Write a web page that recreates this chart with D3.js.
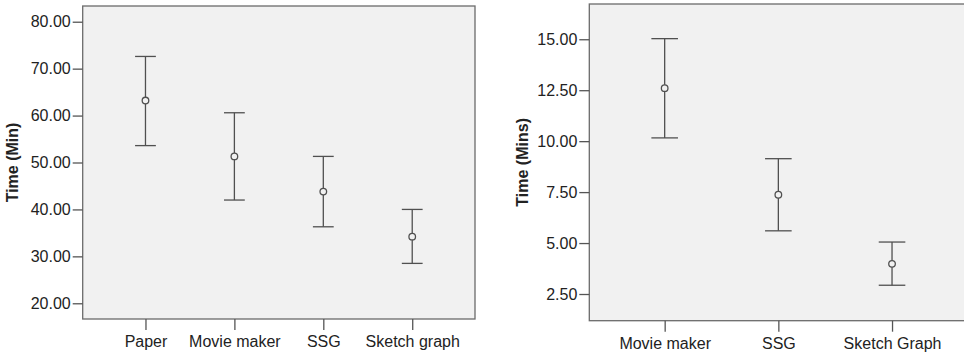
<!DOCTYPE html>
<html>
<head>
<meta charset="utf-8">
<script src="https://cdn.jsdelivr.net/npm/d3@7"></script>
<style>
    body { margin: 0; background: #fff; }
    svg { display: block; font-family: Arial, "Liberation Sans", sans-serif; }
</style>
</head>
<body>
<div id="chart"></div>
<script>
// Task time error bar charts (mean with 95% CI)

const leftCategories = ['Paper', 'Movie maker', 'SSG', 'Sketch graph'];
const leftMeans = [63.2, 51.3, 43.8, 34.2];
const leftLower = [53.6, 42.0, 36.3, 28.5];
const leftUpper = [72.6, 60.6, 51.3, 40.0];
const leftTicks = [20, 30, 40, 50, 60, 70, 80];

const rightCategories = ['Movie maker', 'SSG', 'Sketch Graph'];
const rightMeans = [12.6, 7.37, 3.98];
const rightLower = [10.16, 5.6, 2.93];
const rightUpper = [15.03, 9.14, 5.05];
const rightTicks = [2.5, 5, 7.5, 10, 12.5, 15];

const width = 964;
const height = 354;

const svg = d3.select('#chart').append('svg')
    .attr('width', width)
    .attr('height', height);

function drawPanel(opts) {
    const { left, right, top, bottom, domain, pointPadding, categories, means, lower, upper, ticks, label, labelX } = opts;

    const g = svg.append('g');

    const x = d3.scalePoint()
        .domain(categories)
        .range([left, right])
        .padding(pointPadding);

    const y = d3.scaleLinear()
        .domain(domain)
        .range([bottom, top]);

    // Plot background
    g.append('rect')
        .attr('x', left)
        .attr('y', top)
        .attr('width', right - left)
        .attr('height', bottom - top)
        .attr('fill', '#f1f1f1')
        .attr('stroke', '#6b6b6b')
        .attr('stroke-width', 1.3);

    // Y axis
    const yAxis = g.append('g')
        .attr('transform', `translate(${left},0)`)
        .call(d3.axisLeft(y)
            .tickValues(ticks)
            .tickFormat(d3.format('.2f'))
            .tickSize(10)
            .tickPadding(2));
    yAxis.select('.domain').remove();
    yAxis.selectAll('line').attr('stroke', '#555').attr('stroke-width', 1.3);
    yAxis.selectAll('text')
        .attr('fill', '#222')
        .attr('font-size', '16px');

    // X axis
    const xAxis = g.append('g')
        .attr('transform', `translate(0,${bottom})`)
        .call(d3.axisBottom(x)
            .tickSize(11)
            .tickPadding(6));
    xAxis.select('.domain').remove();
    xAxis.selectAll('line').attr('stroke', '#555').attr('stroke-width', 1.3);
    xAxis.selectAll('text')
        .attr('fill', '#222')
        .attr('font-size', '16px');

    // Axis title
    g.append('text')
        .attr('transform', `translate(${labelX},${(top + bottom) / 2}) rotate(-90)`)
        .attr('text-anchor', 'middle')
        .attr('dy', '0.35em')
        .attr('font-size', '16px')
        .attr('font-weight', 'bold')
        .attr('fill', '#222')
        .text(label);

    // Error bars
    const capHalf = x.step() * 0.117;
    const bars = g.selectAll('.bar')
        .data(categories.map((c, i) => ({ c, mean: means[i], lo: lower[i], hi: upper[i] })))
        .enter()
        .append('g')
        .attr('class', 'bar')
        .attr('stroke', '#505050')
        .attr('stroke-width', 1.3)
        .attr('fill', 'none');

    bars.append('line')
        .attr('x1', d => x(d.c))
        .attr('x2', d => x(d.c))
        .attr('y1', d => y(d.hi))
        .attr('y2', d => y(d.lo));

    bars.append('line')
        .attr('x1', d => x(d.c) - capHalf)
        .attr('x2', d => x(d.c) + capHalf)
        .attr('y1', d => y(d.hi))
        .attr('y2', d => y(d.hi));

    bars.append('line')
        .attr('x1', d => x(d.c) - capHalf)
        .attr('x2', d => x(d.c) + capHalf)
        .attr('y1', d => y(d.lo))
        .attr('y2', d => y(d.lo));

    bars.append('circle')
        .attr('cx', d => x(d.c))
        .attr('cy', d => y(d.mean))
        .attr('r', 3.3)
        .attr('fill', '#f1f1f1');
}

drawPanel({
    left: 82.7, right: 475, top: 6, bottom: 319,
    domain: [16.65, 83.35],
    pointPadding: 0.706,
    categories: leftCategories,
    means: leftMeans, lower: leftLower, upper: leftUpper,
    ticks: leftTicks,
    label: 'Time (Min)',
    labelX: 12.5
});

drawPanel({
    left: 589.3, right: 967.4, top: 4, bottom: 320.7,
    domain: [1.19, 16.73],
    pointPadding: 0.663,
    categories: rightCategories,
    means: rightMeans, lower: rightLower, upper: rightUpper,
    ticks: rightTicks,
    label: 'Time (Mins)',
    labelX: 522.5
});
</script>
</body>
</html>
